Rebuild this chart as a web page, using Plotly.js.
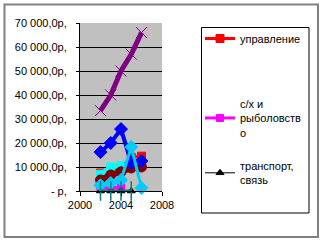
<!DOCTYPE html>
<html><head><meta charset="utf-8">
<script src="https://cdn.plot.ly/plotly-3.0.1.min.js"></script>
<style>html,body{margin:0;padding:0;background:#fff;}#chart{width:324px;height:242px;}</style>
</head><body><div id="chart"></div>
<script>
const years = [2002, 2003, 2004, 2005, 2006];
const upravlenie = [7500, 9000, 10000, 14000, 14500];
const selhoz = [1200, 1300, 1500, null, null];
const transport = [0, 0, 0, 0, null];
const seriesAqua = [7000, 10000, 10500, 12000, 11000];
const seriesBrown = [4600, 6700, 8000, 9600, 10000];
const seriesBlue = [16200, 20000, 25800, 11700, 12500];
const seriesPurple = [33500, 40000, 50000, 57000, 66000];
const seriesSky = [2400, 3300, 4600, 18300, 1300];
const seriesTeal = [0, 0, 0, 0, null];

const yTickVals = [0, 10000, 20000, 30000, 40000, 50000, 60000, 70000];
const yTickText = ['- р,', '10 000,0р,', '20 000,0р,', '30 000,0р,', '40 000,0р,', '50 000,0р,', '60 000,0р,', '70 000,0р,'];
const legendNames = ['управление', 'с/х и<br>рыболовств<br>о', 'транспорт,<br>связь'];

function tr(y, color, width, symbol, msize, extra) {
  return Object.assign({
    x: years, y: y, type: 'scatter', mode: 'lines+markers', cliponaxis: false,
    line: {color: color, width: width},
    marker: {color: color, symbol: symbol, size: msize, line: {color: color, width: 1}},
    showlegend: false, hoverinfo: 'skip'
  }, extra || {});
}

const data = [
  tr(upravlenie, '#FF0000', 3, 'square', 8, {name: legendNames[0], showlegend: true, legend: 'legend'}),
  tr(selhoz, '#FF00FF', 3, 'square', 7, {name: legendNames[1], showlegend: true, legend: 'legend2'}),
  tr(transport, '#000000', 1, 'triangle-up', 7, {name: legendNames[2], showlegend: true, legend: 'legend3'}),
  tr(seriesAqua, '#00FFFF', 4, 'square', 8),
  tr(seriesBrown, '#800000', 6, 'circle', 10),
  tr(seriesBlue, '#0000FF', 4, 'diamond', 10),
  tr(seriesPurple, '#800080', 5, 'x-thin', 11, {marker: {color: '#800080', symbol: 'x-thin', size: 11, line: {color: '#800080', width: 1}}}),
  tr(seriesSky, '#00CCFF', 3, 'diamond', 10),
  tr(seriesTeal, '#008080', 3, 'line-ns', 14, {marker: {color: '#008080', symbol: 'line-ns', size: 14, line: {color: '#008080', width: 1.5}}})
];

const L = 80, R = 162, T = 23, B = 191;
const pw = R - L, ph = B - T;
function px(x) { return (x - L) / pw; }
function py(y) { return (B - y) / ph; }

const legFont = {family: 'Liberation Sans, Arial, sans-serif', size: 11, color: '#000'};
function leg(yTop) {
  return {x: px(200), y: py(yTop), xanchor: 'left', yanchor: 'top', bgcolor: 'rgba(0,0,0,0)',
    borderwidth: 0, font: legFont, itemwidth: 30, tracegroupgap: 0};
}

const layout = {
  width: 324, height: 242,
  margin: {l: L, r: 324 - R, t: T, b: 242 - B, pad: 0},
  paper_bgcolor: '#FFFFFF', plot_bgcolor: '#C0C0C0',
  font: {family: 'Liberation Sans, Arial, sans-serif', size: 11, color: '#000'},
  xaxis: {range: [2000, 2008], tickvals: [2000, 2004, 2008], ticktext: ['2000', '2004', '2008'],
    showgrid: false, zeroline: false, showline: true, linecolor: '#000', linewidth: 1,
    ticks: 'outside', ticklen: 4, tickcolor: '#000', fixedrange: true},
  yaxis: {range: [0, 70000], tickvals: yTickVals, ticktext: yTickText,
    showgrid: true, gridcolor: '#000', gridwidth: 1, zeroline: false, showline: true, linecolor: '#000', linewidth: 1,
    ticks: 'outside', ticklen: 3, tickcolor: '#000', ticklabelstandoff: 7, fixedrange: true},
  showlegend: true,
  legend: leg(24),
  legend2: leg(90),
  legend3: leg(152),
  shapes: [
    {type: 'rect', xref: 'paper', yref: 'paper', x0: px(4.5), x1: px(318), y0: py(237), y1: py(4.5),
      line: {color: '#808080', width: 2}, fillcolor: 'rgba(0,0,0,0)'},
    {type: 'rect', xref: 'paper', yref: 'paper', x0: px(201.5), x1: px(309), y0: py(213), y1: py(27.5),
      line: {color: '#000', width: 1}, fillcolor: 'rgba(0,0,0,0)'}
  ]
};

Plotly.newPlot('chart', data, layout, {staticPlot: true, displayModeBar: false});
</script>
</body></html>
